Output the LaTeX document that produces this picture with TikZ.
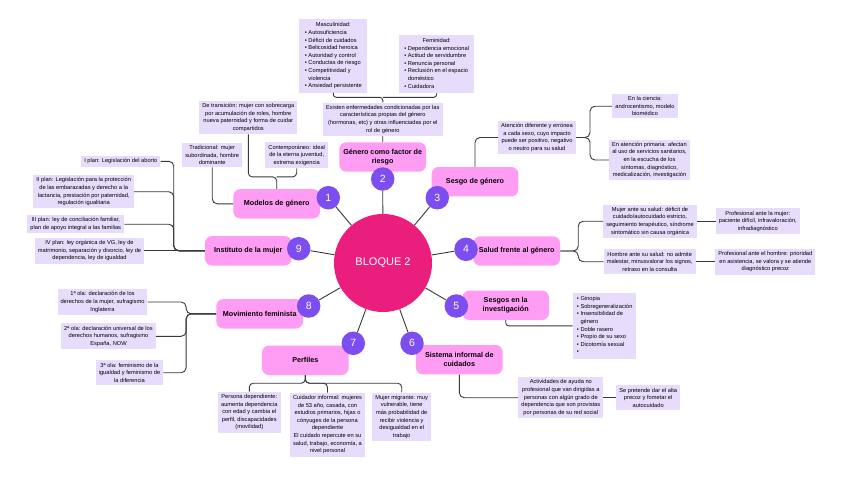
\documentclass[tikz,border=0pt]{standalone}
\usepackage{fontspec}
\setmainfont{Liberation Sans}
\usepackage{xcolor}
\usepackage{tikz}
\usetikzlibrary{positioning, calc}
\definecolor{hubpink}{HTML}{EA1E7D}
\definecolor{topicpink}{HTML}{FF9DF4}
\definecolor{dotviolet}{HTML}{7C4DEF}
\definecolor{notelav}{HTML}{E8DCFD}
\definecolor{wiregray}{HTML}{383838}

\begin{document}
\begin{tikzpicture}[
  x=1pt, y=-1pt,
  hubcircle/.style={circle, fill=hubpink, minimum size=98pt, inner sep=0pt, text=white, font=\fontsize{11}{13}\selectfont},
  numdot/.style={circle, fill=dotviolet, minimum size=23.5pt, inner sep=0pt, text=white, font=\fontsize{10.5}{12}\selectfont},
  topicbox/.style={rectangle, rounded corners=7pt, fill=topicpink, minimum width=86.7pt, minimum height=29.4pt, inner sep=1pt, align=center, font=\fontsize{7.2}{9.4}\selectfont\bfseries},
  notebox/.style={rectangle, fill=notelav, inner xsep=3pt, inner ysep=2.6pt, align=center, font=\fontsize{5.7}{7.6}\selectfont},
  spoke/.style={draw=wiregray, line width=0.9pt},
  branchline/.style={draw=wiregray, line width=0.9pt, rounded corners=5pt}
]
  \fill[white] (0,0) rectangle (848,477);

  % Topic boxes
  \node[topicbox] (gen) at (382.7,157) {Género como factor de\\riesgo};
  \node[topicbox] (mod) at (276.7,203.8) {Modelos de género};
  \node[topicbox] (ses) at (475,181.7) {Sesgo de género};
  \node[topicbox] (sal) at (516.7,251) {Salud frente al género};
  \node[topicbox] (inv) at (505.7,305.3) {Sesgos en la\\investigación};
  \node[topicbox] (sis) at (459.3,359.7) {Sistema informal de\\cuidados};
  \node[topicbox] (per) at (305.3,360.3) {Perfiles};
  \node[topicbox] (mov) at (259.7,313.8) {Movimiento feminista};
  \node[topicbox] (ins) at (248.3,250.8) {Instituto de la mujer};

  % Central hub and numbers
  \node[hubcircle] (hub) at (383,263) {BLOQUE 2};
  \node[numdot] (d1) at (328.3,197.7) {1};
  \node[numdot] (d2) at (382.7,179) {2};
  \node[numdot] (d3) at (437.3,197.7) {3};
  \node[numdot] (d4) at (466,249.3) {4};
  \node[numdot] (d5) at (456.3,306) {5};
  \node[numdot] (d6) at (412,343.3) {6};
  \node[numdot] (d7) at (353.3,343.3) {7};
  \node[numdot] (d8) at (308.7,306) {8};
  \node[numdot] (d9) at (298.7,248.7) {9};
  \draw[spoke] (hub) -- (d1) (hub) -- (d2) (hub) -- (d3) (hub) -- (d4) (hub) -- (d5)
    (hub) -- (d6) (hub) -- (d7) (hub) -- (d8) (hub) -- (d9);

  % Género como factor de riesgo
  \node[notebox, inner xsep=5.5pt] (masc) at (333.3,55.8) {\begin{tabular}{@{}l@{}}\multicolumn{1}{@{}c@{}}{Masculinidad:}\\
    \textbullet\ Autosuficiencia\\ \textbullet\ Déficit de cuidados\\ \textbullet\ Belicosidad heroica\\
    \textbullet\ Autoridad y control\\ \textbullet\ Conductas de riesgo\\ \textbullet\ Competitividad y\\
    \phantom{\textbullet\ }violencia\\ \textbullet\ Ansiedad persistente\end{tabular}};
  \node[notebox, inner xsep=5pt] (fem) at (436.7,63.8) {\begin{tabular}{@{}l@{}}\multicolumn{1}{@{}c@{}}{Feminidad:}\\
    \textbullet\ Dependencia emocional\\ \textbullet\ Actitud de servidumbre\\ \textbullet\ Renuncia personal\\
    \textbullet\ Reclusión en el espacio\\ \phantom{\textbullet\ }doméstico\\ \textbullet\ Cuidadora\end{tabular}};
  \node[notebox] (exist) at (382.8,119.2) {Existen enfermedades condicionadas por las\\características propias del género\\(hormonas, etc) y otras influenciadas por el\\rol de género};
  \draw[branchline, rounded corners=3pt] (masc.south) |- ([yshift=5pt]exist.north) -- (exist.north);
  \draw[branchline, rounded corners=3pt] (fem.south) |- ([yshift=5pt]exist.north);
  \draw[branchline] (exist) -- (gen);

  % Modelos de género
  \node[notebox] (trans) at (248.3,117.5) {De transición: mujer con sobrecarga\\por acumulación de roles, hombre\\nueva paternidad y forma de cuidar\\compartidos};
  \node[notebox] (trad) at (212.2,155) {Tradicional: mujer\\subordinada, hombre\\dominante};
  \node[notebox] (cont) at (296.7,155.3) {Contemporáneo: ideal\\de la eterna juventud,\\extrema exigencia};
  \draw[branchline] (trad.south) |- (mod.west);
  \draw[branchline, rounded corners=4pt] (trans.south) |- ([yshift=12pt]mod.north) -- (mod.north);
  \draw[branchline, rounded corners=4pt] (cont.south) |- ([yshift=12pt]mod.north);

  % Sesgo de género
  \node[notebox] (aten) at (537,137.5) {Atención diferente y errónea\\a cada sexo, cuyo impacto\\puede ser positivo, negativo\\o neutro para su salud};
  \node[notebox] (cien) at (645,106.2) {En la ciencia:\\androcentismo, modelo\\biomédico};
  \node[notebox] (aprim) at (649.5,160) {En atención primaria: afectan\\al uso de servicios sanitarios,\\en la escucha de los\\síntomas, diagnóstico,\\medicalización, investigación};
  \draw[branchline] (ses.north) |- (aten.west);
  \draw[branchline] (aten.east) -- ++(14,0) |- (cien.west);
  \draw[branchline] (aten.east) -- ++(14,0) |- (aprim.west);

  % Salud frente al género
  \node[notebox] (mujsal) at (650,221.2) {Mujer ante su salud: déficit de\\cuidado/autocuidado estricto,\\seguimiento terapéutico, síndrome\\sintomático sin causa orgánica};
  \node[notebox] (homsal) at (649.7,261.7) {Hombre ante su salud: no admite\\malestar, minusvalorar los signos,\\retraso en la consulta};
  \node[notebox, right=18.7pt of mujsal] (profm) {Profesional ante la mujer:\\paciente difícil, infravaloración,\\infradiagnóstico};
  \node[notebox, right=19.3pt of homsal] (profh) {Profesional ante el hombre: prioridad\\en asistencia, se valora y se atiende\\diagnóstico precoz};
  \draw[branchline] (sal.east) -- ++(18,0) |- (mujsal.west);
  \draw[branchline] (sal.east) -- ++(18,0) |- (homsal.west);
  \draw[branchline] (mujsal) -- (profm);
  \draw[branchline] (homsal) -- (profh);

  % Sesgos en la investigación
  \node[notebox, inner xsep=4pt] (slist) at (604.7,325.8) {\begin{tabular}{@{}l@{}}\textbullet\ Ginopia\\ \textbullet\ Sobregeneralización\\
    \textbullet\ Insensibilidad de\\ \phantom{\textbullet\ }género\\ \textbullet\ Doble rasero\\
    \textbullet\ Propio de su sexo\\ \textbullet\ Dicotomía sexual\\ \textbullet\end{tabular}};
  \draw[branchline, rounded corners=3pt] (inv.south) |- (slist.west);

  % Sistema informal de cuidados
  \node[notebox] (activ) at (560.8,397.7) {Actividades de ayuda no\\profesional que van dirigidas a\\personas con algún grado de\\dependencia que son provistas\\por personas de su red social};
  \node[notebox, right=12.7pt of activ] (alta) {Se pretende dar el alta\\precoz y fometar el\\autocuidado};
  \draw[branchline] (sis.south) |- (activ.west);
  \draw[branchline] (activ) -- (alta);

  % Perfiles
  \node[notebox] (pdep) at (249.3,412.2) {Persona dependiente:\\aumenta dependencia\\con edad y cambia el\\perfil, discapacidades\\(movilidad)};
  \node[notebox] (cinf) at (327.5,424.7) {Cuidador informal: mujeres\\de 53 año, casada, con\\estudios primarios, hijas o\\cónyuges de la persona\\dependiente\\El cuidado repercute en su\\salud, trabajo, economía, a\\nivel personal};
  \node[notebox] (mmig) at (401.7,416.8) {Mujer migrante: muy\\vulnerable, tiene\\más probabilidad de\\recibir violencia y\\desigualdad en el\\trabajo};
  \draw[branchline, rounded corners=4pt] (per.south) -- ++(0,8) -| (pdep.north);
  \draw[branchline, rounded corners=4pt] (per.south) -- ++(0,8) -| (cinf.north);
  \draw[branchline, rounded corners=4pt] (per.south) -- ++(0,8) -| (mmig.north);

  % Movimiento feminista
  \node[notebox] (ola1) at (102.5,302) {1ª ola: declaración de los\\derechos de la mujer, sufragismo\\Inglaterra};
  \node[notebox] (ola2) at (108.5,336.3) {2ª ola: declaración universal de los\\derechos humanos, sufragismo\\España, NOW};
  \node[notebox] (ola3) at (129.5,372.7) {3ª ola: feminismo de la\\igualdad y feminismo de\\la diferencia};
  \draw[branchline] (ola1.east) -| ([xshift=-30pt]mov.west) -- (mov.west);
  \draw[branchline] (ola2.east) -| ([xshift=-30pt]mov.west) -- (mov.west);
  \draw[branchline] (ola3.east) -| ([xshift=-30pt]mov.west) -- (mov.west);

  % Instituto de la mujer
  \node[notebox] (pl1) at (120.8,161.3) {I plan: Legislación del aborto};
  \node[notebox] (pl2) at (83.7,191.7) {II plan: Legislación para la protección\\de las embarazadas y derecho a la\\lactancia, prestación por paternidad,\\regulación igualitaria};
  \node[notebox] (pl3) at (75.8,224.2) {III plan: ley de conciliación familiar,\\plan de apoyo integral a las familias};
  \node[notebox] (pl4) at (89.5,250.8) {IV plan: ley orgánica de VG, ley de\\matrimonio, separación y divorcio, ley de\\dependencia, ley de igualdad};
  \draw[branchline] (pl1.east) -| ([xshift=-31pt]ins.west) -- (ins.west);
  \draw[branchline] (pl2.east) -| ([xshift=-31pt]ins.west) -- (ins.west);
  \draw[branchline] (pl3.east) -| ([xshift=-31pt]ins.west) -- (ins.west);
  \draw[branchline] (pl4) -- (ins);
\end{tikzpicture}
\end{document}
